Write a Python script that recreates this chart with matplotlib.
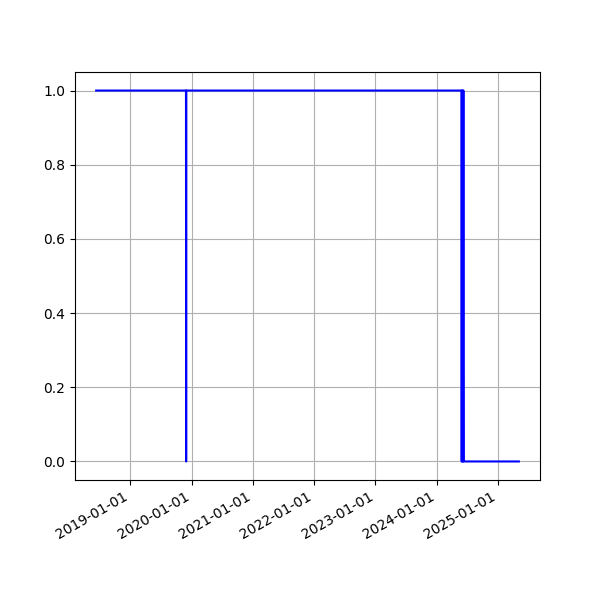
import matplotlib
matplotlib.use("Agg")
import matplotlib.pyplot as plt
import matplotlib.dates as mdates
import pandas as pd

# status flag over time (1 = up, 0 = down)
dates = ['2018-06-10', '2019-11-28', '2019-11-29', '2019-11-30',
         '2024-05-28', '2024-05-30', '2024-06-01', '2024-06-03', '2024-06-05',
         '2024-06-07', '2024-06-09', '2024-06-11', '2024-06-12',
         '2025-05-06']
values = [1, 1, 0, 1,
          1, 0, 1, 0, 1,
          0, 1, 0, 0,
          0]

x = pd.to_datetime(dates)

fig, ax = plt.subplots(figsize=(6, 6), dpi=100)
ax.plot(x, values, color='blue')
ax.grid(True)
ax.xaxis.set_major_locator(mdates.YearLocator())
ax.xaxis.set_major_formatter(mdates.DateFormatter('%Y-%m-%d'))
fig.autofmt_xdate()
fig.savefig("out.png")
